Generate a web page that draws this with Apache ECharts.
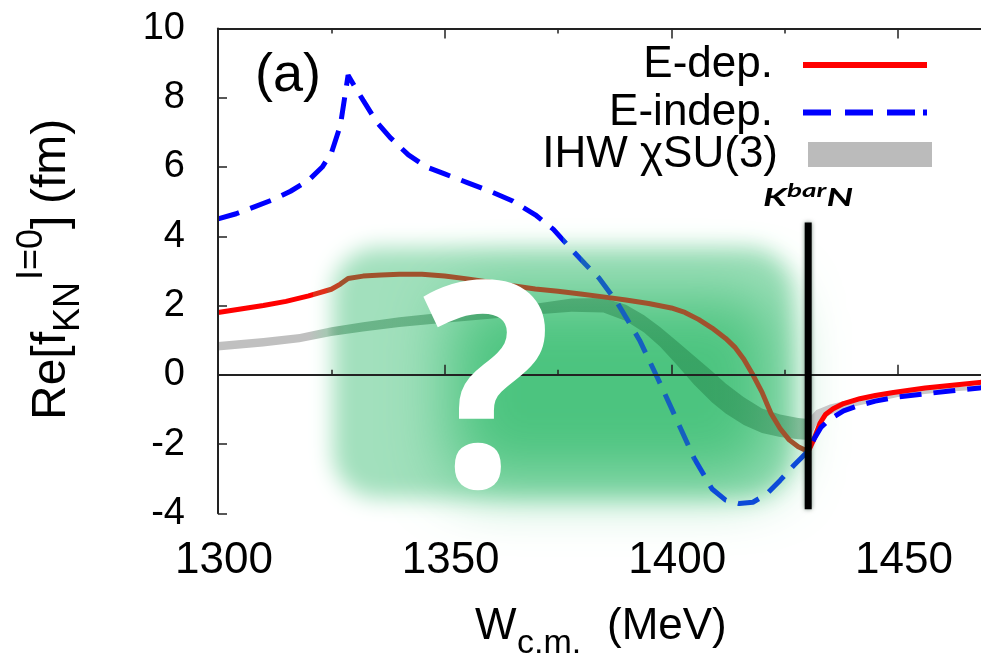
<!DOCTYPE html>
<html><head><meta charset="utf-8">
<script src="https://cdn.jsdelivr.net/npm/echarts@6/dist/echarts.min.js"></script>
<style>html,body{margin:0;padding:0;background:#fff}#c{width:981px;height:657px}</style>
</head><body><div id="c"></div>
<script>
// ---------- data ----------
const wRed = [1300,1305,1310,1315,1320,1325,1327,1328.7,1332,1336,1340,1345,1350,1355,1360,1365,1370,1375,1380,1385,1390,1395,1400,1403,1406,1409,1412,1414,1416,1418,1420,1422,1424,1426,1428,1429.5,1430.2,1430.8,1431.5,1432.8,1434,1435.7,1438,1441.6,1445,1449,1456,1462,1468,1475];
const eDep = [1.80,1.90,2.00,2.12,2.28,2.47,2.62,2.78,2.85,2.88,2.90,2.90,2.85,2.77,2.67,2.57,2.48,2.41,2.33,2.25,2.16,2.06,1.93,1.80,1.60,1.35,1.05,0.80,0.45,0.0,-0.50,-1.12,-1.55,-1.88,-2.08,-2.17,-2.20,-2.05,-1.85,-1.40,-1.15,-0.98,-0.83,-0.69,-0.60,-0.51,-0.38,-0.30,-0.22,-0.17];

const wBlue = [1300,1304,1308,1312,1316,1320,1323,1325,1327,1328.7,1330.5,1332,1335,1338,1342,1346,1350,1355,1360,1365,1370,1374,1378,1381,1384,1388,1393,1397,1400.5,1405,1409,1412,1415,1418,1421,1424,1427,1430.2,1431.5,1433,1435,1438,1441,1445,1450,1456,1462,1468,1475];
const eIndep = [4.50,4.65,4.85,5.05,5.30,5.62,6.00,6.40,7.20,8.65,8.25,7.93,7.30,6.85,6.35,6.00,5.80,5.55,5.30,5.02,4.62,4.20,3.62,3.20,2.80,2.10,1.00,-0.10,-1.10,-2.40,-3.30,-3.62,-3.72,-3.68,-3.45,-3.05,-2.62,-2.20,-1.85,-1.52,-1.28,-1.04,-0.90,-0.76,-0.64,-0.55,-0.46,-0.38,-0.31];

const wBand = [1300,1310,1318,1325,1332,1340,1350,1360,1370,1378,1385,1390,1394,1397.5,1401,1405,1409,1412,1416,1420,1424,1428,1430.2,1432,1435,1440,1450,1460,1475];
const ihwHigh = [0.95,1.06,1.18,1.37,1.52,1.66,1.80,1.92,2.05,2.20,2.22,2.02,1.72,1.38,1.00,0.55,0.10,-0.25,-0.65,-0.97,-1.15,-1.25,-1.28,-1.02,-0.86,-0.70,-0.50,-0.38,-0.25];
const ihwLow  = [0.70,0.82,0.94,1.12,1.25,1.38,1.50,1.62,1.74,1.82,1.80,1.55,1.22,0.82,0.32,-0.28,-0.80,-1.12,-1.45,-1.68,-1.80,-1.86,-1.88,-1.45,-1.15,-0.92,-0.64,-0.50,-0.36];

const thresholdW = 1430.2;          // KbarN threshold
const thresholdSpan = [-3.88, 4.4]; // vertical extent of the marker line
const zeroLineW = [1300, 1500];

const legendNames = ['E-dep.', 'E-indep.', 'IHW χSU(3)'];
const xRange = [1300, 1500];
const yRange = [-4, 10];

// ---------- chart ----------
const FONT = '"Liberation Sans", Arial, sans-serif';
const KFONT = 'Lato, "Open Sans", sans-serif';
const chart = echarts.init(document.getElementById('c'), null, {renderer: 'canvas'});
const pairs = (xs, ys) => xs.map((x, i) => [x, ys[i]]);

const axisLineStyle = {color: '#222', width: 2};
const tickStyle = {color: '#222', width: 1.5};
const mid = (baseline, fs) => baseline - 0.3465 * fs;

// colour stops (by W) of the IHW band: grey outside the green box, tinted inside
const bandStops = [[1300, '#c0c0c0'], [1320, '#c0c0c0'], [1324, '#a6c8b3'], [1328, 'rgba(30,120,65,0.42)'],
                   [1430.1, 'rgba(30,120,65,0.42)'], [1430.3, '#c8c8c8'], [1475, '#c8c8c8']];

const option = {
  animation: false,
  backgroundColor: '#fff',
  grid: {left: 218, top: 28.5, width: 906.6, height: 484.8, containLabel: false, outerBoundsMode: 'none'},
  xAxis: [
    {type: 'value', min: xRange[0], max: xRange[1], interval: 50, position: 'bottom', z: 5,
     axisLine: {show: true, lineStyle: axisLineStyle},
     axisTick: {show: true, inside: true, length: 10, lineStyle: tickStyle},
     minorTick: {show: true, splitNumber: 2, length: 5, lineStyle: tickStyle},
     axisLabel: {fontSize: 44, fontFamily: FONT, color: '#000', margin: 26, showMaxLabel: false,
                 padding: [0, 0, 0, 12], formatter: v => String(v)},
     splitLine: {show: false}, minorSplitLine: {show: false}},
    {type: 'value', min: xRange[0], max: xRange[1], interval: 50, position: 'top', z: 5,
     axisLine: {show: true, lineStyle: axisLineStyle},
     axisTick: {show: true, inside: true, length: 10, lineStyle: tickStyle},
     minorTick: {show: true, splitNumber: 2, length: 5, lineStyle: tickStyle},
     axisLabel: {show: false}, splitLine: {show: false}}
  ],
  yAxis: {type: 'value', min: yRange[0], max: yRange[1], interval: 2, z: 5,
    axisLine: {show: true, lineStyle: axisLineStyle},
    axisTick: {show: true, inside: true, length: 9, lineStyle: tickStyle},
    axisLabel: {fontSize: 38, fontFamily: FONT, color: '#000', margin: 33},
    splitLine: {show: false}},
  legend: {
    orient: 'vertical', right: 49, top: 38, align: 'right',
    itemWidth: 124, itemHeight: 25, itemGap: 3.5,
    textStyle: {fontSize: 44, lineHeight: 44, fontFamily: FONT, color: '#000', padding: [0, 25, 0, 0]},
    selectedMode: false,
    data: [
      {name: legendNames[0], icon: 'path://M0,0h124v6h-124z', itemStyle: {color: '#ff0000'}},
      {name: legendNames[1], icon: 'path://M0,0h28v6h-28z M42,0h28v6h-28z M84,0h28v6h-28z M120,0h4v6h-4z', itemStyle: {color: '#0000ff'}}
    ]
  },
  visualMap: [
    {type: 'piecewise', show: false, seriesIndex: 0, dimension: 0, pieces: [
      {lt: 1321, color: '#000'}, {gte: 1321, lt: 1429, color: '#146a34'}, {gte: 1429, color: '#000'}]},
    {type: 'piecewise', show: false, seriesIndex: 2, dimension: 0, pieces: [
      {lt: 1321, color: '#ff0000'}, {gte: 1321, lt: 1324, color: '#e0301a'},
      {gte: 1324, lt: 1327, color: '#c04424'}, {gte: 1327, lt: 1430.2, color: '#a0522d'},
      {gte: 1430.2, color: '#ff0000'}]},
    {type: 'piecewise', show: false, seriesIndex: 3, dimension: 0, pieces: [
      {lt: 1376, color: '#0000ff'}, {gte: 1376, lt: 1380, color: '#0a40e0'},
      {gte: 1380, lt: 1405, color: '#1560bf'}, {gte: 1405, lt: 1430.2, color: '#0d4ad8'},
      {gte: 1430.2, color: '#0000ff'}]}
  ],
  series: [
    {name: 'zero', type: 'line', data: zeroLineW.map(w => [w, 0]), symbol: 'none', silent: true, z: 1,
     lineStyle: {width: 1.5}},
    {name: legendNames[2], type: 'custom', silent: true, z: 2, clip: true,
     itemStyle: {color: '#bbbbbb'},
     data: wBand.map((w, i) => [w, ihwLow[i], ihwHigh[i]]),
     encode: {x: 0, y: [1, 2]},
     renderItem: function (params, api) {
       if (params.dataIndex !== 0) return null;
       const up = wBand.map((w, i) => api.coord([w, ihwHigh[i]]));
       const lo = wBand.map((w, i) => api.coord([w, ihwLow[i]])).reverse();
       const x0 = api.coord([wBand[0], 0])[0];
       const x1 = api.coord([wBand[wBand.length - 1], 0])[0];
       const stops = bandStops.map(s => ({offset: Math.min(1, Math.max(0, (api.coord([s[0], 0])[0] - x0) / (x1 - x0))), color: s[1]}));
       return {type: 'polygon', shape: {points: up.concat(lo)},
               style: {fill: new echarts.graphic.LinearGradient(x0, 0, x1, 0, stops, true)}};
     }},
    {name: legendNames[0], type: 'line', data: pairs(wRed, eDep), symbol: 'none', silent: true, z: 3,
     itemStyle: {color: '#ff0000'}, lineStyle: {width: 5}},
    {name: legendNames[1], type: 'line', data: pairs(wBlue, eIndep), symbol: 'none', silent: true, z: 4,
     itemStyle: {color: '#0000ff'}, lineStyle: {width: 5, type: [22, 12], cap: 'butt'}},
    {name: 'threshold', type: 'line', data: thresholdSpan.map(v => [thresholdW, v]), symbol: 'none', silent: true, z: 6,
     itemStyle: {color: '#000'}, lineStyle: {width: 7, color: '#000', shadowBlur: 4, shadowColor: 'rgba(0,40,20,0.5)'}}
  ],
  graphic: [
    // soft green box (blurred shadows of off-canvas rects)
    {type: 'rect', z: 0, silent: true,
     shape: {x: 333 + 3000, y: 248, width: 460, height: 250, r: 45},
     style: {fill: '#a2e0bd', shadowBlur: 22, shadowColor: '#a2e0bd', shadowOffsetX: -3000}},
    {type: 'rect', z: 0, silent: true,
     shape: {x: 450 + 3000, y: 295, width: 325, height: 185, r: 30},
     style: {fill: '#4cc47f', shadowBlur: 64, shadowColor: '#4cc47f', shadowOffsetX: -3000}},
    // third legend row (IHW band)
    {type: 'rect', z: 60, silent: true, shape: {x: 808, y: 142, width: 124, height: 25},
     style: {fill: '#bbbbbb'}},
    {type: 'text', z: 60, silent: true, x: 778, y: 154.5,
     style: {text: legendNames[2], font: '44px ' + FONT, fill: '#000', align: 'right', verticalAlign: 'middle'}},
    // big question mark
    {type: 'text', z: 60, silent: true, x: 487, y: 405, scaleY: 1.06,
     style: {text: '?', font: 'bold 270px "Open Sans", "DejaVu Sans", sans-serif', fill: '#fff', align: 'center', verticalAlign: 'middle'}},
    // panel label
    {type: 'text', z: 60, silent: true, x: 255, y: mid(95, 54),
     style: {text: '(a)', font: '54px ' + FONT, fill: '#000', align: 'left', verticalAlign: 'middle'}},
    // KbarN label
    {type: 'group', z: 60, x: 763, y: 208, scaleX: 1.55, silent: true, children: [
      {type: 'text', z: 60, x: 0, y: -9.3, style: {text: 'K', font: 'italic bold 24px ' + KFONT, fill: '#000', align: 'left', verticalAlign: 'middle'}},
      {type: 'text', z: 60, x: 15.5, y: -17, style: {text: 'bar', font: 'italic bold 18px ' + KFONT, fill: '#000', align: 'left', verticalAlign: 'middle'}},
      {type: 'text', z: 60, x: 41, y: -9.3, style: {text: 'N', font: 'italic bold 24px ' + KFONT, fill: '#000', align: 'left', verticalAlign: 'middle'}}
    ]},
    // x axis title
    {type: 'text', z: 60, silent: true, x: 475, y: mid(642, 44),
     style: {text: 'W', font: '44px ' + FONT, fill: '#000', align: 'left', verticalAlign: 'middle'}},
    {type: 'text', z: 60, silent: true, x: 517, y: mid(655, 34),
     style: {text: 'c.m.', font: '34px ' + FONT, fill: '#000', align: 'left', verticalAlign: 'middle'}},
    {type: 'text', z: 60, silent: true, x: 607, y: mid(642, 44),
     style: {text: '(MeV)', font: '44px ' + FONT, fill: '#000', align: 'left', verticalAlign: 'middle'}},
    // y axis title (rotated)
    {type: 'group', z: 60, x: 68, y: 420, rotation: Math.PI / 2, silent: true, children: [
      {type: 'text', z: 60, x: 0, y: mid(0, 48), style: {text: 'Re[f', font: '48px ' + FONT, fill: '#000', align: 'left', verticalAlign: 'middle'}},
      {type: 'text', z: 60, x: 88, y: mid(14, 36), style: {text: 'KN', font: '36px ' + FONT, fill: '#000', align: 'left', verticalAlign: 'middle'}},
      {type: 'text', z: 60, x: 140, y: mid(-23, 36), style: {text: 'I=0', font: '36px ' + FONT, fill: '#000', align: 'left', verticalAlign: 'middle'}},
      {type: 'text', z: 60, x: 191, y: mid(0, 48), style: {text: ']', font: '48px ' + FONT, fill: '#000', align: 'left', verticalAlign: 'middle'}},
      {type: 'text', z: 60, x: 216, y: mid(0, 48), style: {text: '(fm)', font: '48px ' + FONT, fill: '#000', align: 'left', verticalAlign: 'middle'}}
    ]}
  ]
};
chart.setOption(option);
</script>
</body></html>
